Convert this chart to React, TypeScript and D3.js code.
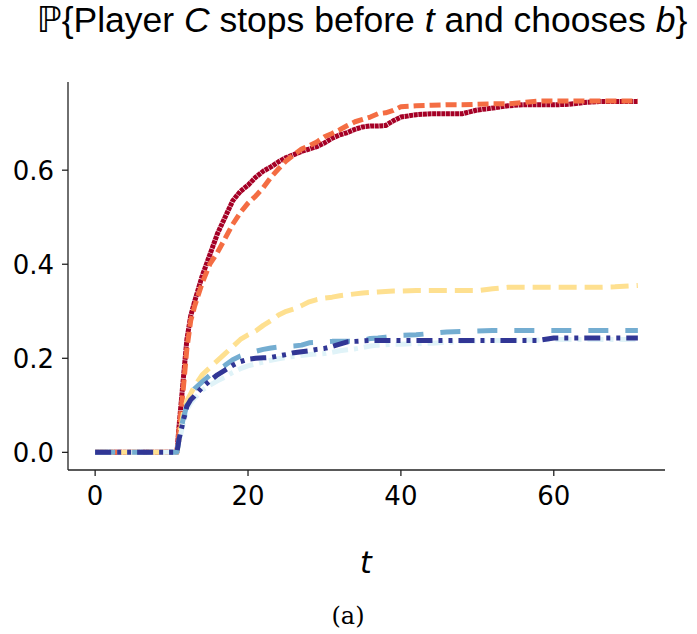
import React from "react";
import * as d3 from "d3";

const times = [0, 10, 10.7, 11, 11.5, 12, 12.5, 13, 14, 15, 16, 17, 18, 19, 20, 21, 22, 23, 24, 25, 26, 27, 28, 29, 30, 31, 32, 33, 34, 35, 36, 37, 38, 39, 40, 42, 44, 46, 48, 50, 52, 54, 56, 58, 60, 62, 64, 66, 68, 71];

const seriesRed = [0, 0, 0, 0.06, 0.15, 0.24, 0.29, 0.32, 0.375, 0.42, 0.465, 0.5, 0.535, 0.555, 0.568, 0.585, 0.598, 0.607, 0.618, 0.627, 0.633, 0.64, 0.645, 0.65, 0.658, 0.668, 0.675, 0.68, 0.687, 0.692, 0.694, 0.694, 0.695, 0.705, 0.713, 0.718, 0.72, 0.72, 0.72, 0.728, 0.732, 0.737, 0.739, 0.739, 0.739, 0.74, 0.744, 0.746, 0.746, 0.746];
const seriesOrange = [0, 0, 0, 0.05, 0.13, 0.22, 0.28, 0.31, 0.36, 0.4, 0.425, 0.455, 0.485, 0.51, 0.53, 0.545, 0.563, 0.585, 0.603, 0.62, 0.633, 0.645, 0.652, 0.66, 0.671, 0.678, 0.686, 0.695, 0.703, 0.708, 0.713, 0.72, 0.722, 0.727, 0.735, 0.737, 0.738, 0.739, 0.739, 0.74, 0.741, 0.741, 0.744, 0.747, 0.747, 0.747, 0.747, 0.747, 0.747, 0.747];
const seriesYellow = [0, 0, 0, 0.03, 0.08, 0.11, 0.125, 0.14, 0.165, 0.18, 0.195, 0.21, 0.225, 0.24, 0.25, 0.258, 0.27, 0.28, 0.292, 0.3, 0.305, 0.312, 0.32, 0.325, 0.328, 0.33, 0.333, 0.335, 0.337, 0.339, 0.34, 0.341, 0.342, 0.343, 0.343, 0.344, 0.344, 0.344, 0.344, 0.344, 0.348, 0.351, 0.351, 0.351, 0.351, 0.351, 0.351, 0.351, 0.352, 0.355];
const seriesPaleBlue = [0, 0, 0, 0.025, 0.06, 0.09, 0.105, 0.115, 0.132, 0.143, 0.152, 0.16, 0.17, 0.178, 0.184, 0.188, 0.192, 0.196, 0.199, 0.202, 0.204, 0.206, 0.208, 0.209, 0.21, 0.213, 0.216, 0.218, 0.22, 0.223, 0.226, 0.228, 0.229, 0.23, 0.23, 0.231, 0.232, 0.234, 0.236, 0.237, 0.238, 0.238, 0.239, 0.239, 0.24, 0.24, 0.24, 0.24, 0.24, 0.24];
const seriesMidBlue = [0, 0, 0, 0.03, 0.07, 0.1, 0.12, 0.135, 0.15, 0.164, 0.175, 0.185, 0.197, 0.205, 0.21, 0.215, 0.219, 0.222, 0.224, 0.225, 0.226, 0.228, 0.233, 0.234, 0.235, 0.236, 0.236, 0.236, 0.236, 0.238, 0.242, 0.243, 0.245, 0.247, 0.249, 0.25, 0.253, 0.256, 0.257, 0.258, 0.259, 0.259, 0.259, 0.259, 0.259, 0.259, 0.259, 0.259, 0.259, 0.259];
const seriesNavy = [0, 0, 0, 0.03, 0.065, 0.098, 0.112, 0.12, 0.138, 0.152, 0.165, 0.175, 0.185, 0.193, 0.198, 0.2, 0.201, 0.202, 0.205, 0.208, 0.212, 0.214, 0.216, 0.219, 0.221, 0.225, 0.23, 0.235, 0.236, 0.237, 0.238, 0.238, 0.238, 0.238, 0.238, 0.238, 0.238, 0.238, 0.238, 0.238, 0.238, 0.238, 0.238, 0.238, 0.243, 0.243, 0.243, 0.243, 0.243, 0.243];

const xTicks = [0, 20, 40, 60];
const yTicks = [0.0, 0.2, 0.4, 0.6];

const seriesList = [
  { values: seriesRed, color: "#a50026", dash: "4,0.6" },
  { values: seriesOrange, color: "#f46d43", dash: "11,5" },
  { values: seriesYellow, color: "#fee090", dash: "18,8" },
  { values: seriesPaleBlue, color: "#e0f3f8", dash: "16,6,4,6" },
  { values: seriesMidBlue, color: "#74add1", dash: "20,17" },
  { values: seriesNavy, color: "#313695", dash: "16,6,4,6,4,6" },
];

export default function App() {
  const W = 697, H = 634;
  const x = d3.scaleLinear().domain([-3.55, 74.55]).range([68, 665]);
  const y = d3.scaleLinear().domain([-0.0375, 0.7875]).range([470, 82]);
  const line = d3.line<number>().x((_, i) => x(times[i])).y((d) => y(d));
  const axisColor = "#222";
  return (
    <svg width={W} height={H} style={{ position: "absolute", left: 0, top: 0, background: "#fff" }}>
      <rect width={W} height={H} fill="#fff" />
      <text x={362} y={32} textAnchor="middle" fontFamily="Liberation Sans, Arial, sans-serif" fontSize={35.5} fill="#000">
        <tspan fontFamily="DejaVu Sans">ℙ</tspan>
        <tspan>{"{Player "}</tspan>
        <tspan fontStyle="italic">C</tspan>
        <tspan>{" stops before "}</tspan>
        <tspan fontStyle="italic">t</tspan>
        <tspan>{" and chooses "}</tspan>
        <tspan fontStyle="italic">b</tspan>
        <tspan>{"}"}</tspan>
      </text>
      <g>
        {seriesList.map((s, i) => (
          <path key={i} d={line(s.values) || ""} fill="none" stroke={s.color} strokeWidth={5} strokeDasharray={s.dash} strokeLinejoin="round" />
        ))}
      </g>
      <line x1={68} x2={68} y1={y.range()[1]} y2={470} stroke={axisColor} strokeWidth={1.3} />
      <line x1={68} x2={665} y1={470} y2={470} stroke={axisColor} strokeWidth={1.3} />
      {yTicks.map((t) => (
        <g key={"y" + t}>
          <line x1={62} x2={68} y1={y(t)} y2={y(t)} stroke={axisColor} strokeWidth={1.3} />
          <text x={54} y={y(t)} dy="0.36em" textAnchor="end" fontFamily="DejaVu Sans" fontSize={26} fill="#000">
            {t.toFixed(1)}
          </text>
        </g>
      ))}
      {xTicks.map((t) => (
        <g key={"x" + t}>
          <line x1={x(t)} x2={x(t)} y1={470} y2={476} stroke={axisColor} strokeWidth={1.3} />
          <text x={x(t)} y={505} textAnchor="middle" fontFamily="DejaVu Sans" fontSize={26} fill="#000">
            {t}
          </text>
        </g>
      ))}
      <text x={366} y={573} textAnchor="middle" fontFamily="DejaVu Sans" fontStyle="italic" fontSize={30} fill="#000">t</text>
      <text x={348} y={624} textAnchor="middle" fontFamily="DejaVu Serif, Liberation Serif, serif" fontSize={24} fill="#000">(a)</text>
    </svg>
  );
}
